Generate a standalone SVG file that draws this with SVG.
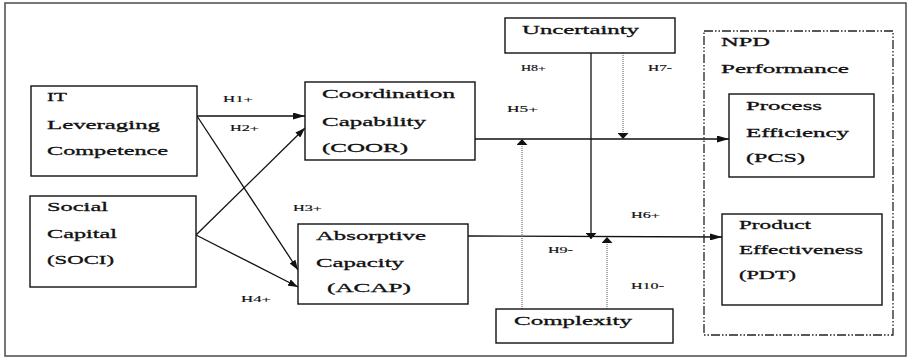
<svg xmlns="http://www.w3.org/2000/svg" width="908" height="358" viewBox="0 0 908 358">
<defs>
<style>
.bx{fill:#fff;stroke:#111;stroke-width:1.4}
.t{font-family:"Liberation Serif","Times New Roman",serif;font-size:13px;fill:#111;stroke:#111;stroke-width:0.3}
.l{font-family:"Liberation Serif","Times New Roman",serif;font-size:8.5px;fill:#111;stroke:#111;stroke-width:0.15}
.c{fill:none;stroke:#111;stroke-width:1.3}
.d{fill:none;stroke:#666;stroke-width:1.1;stroke-dasharray:1 1}
</style>
<marker id="ah" markerUnits="userSpaceOnUse" markerWidth="12" markerHeight="7" refX="12" refY="3.5" orient="auto"><path d="M0,0 L12,3.5 L0,7 z" fill="#111"/></marker>
<marker id="ad" markerUnits="userSpaceOnUse" markerWidth="10" markerHeight="7" refX="10" refY="3.5" orient="auto"><path d="M0,0 L10,3.5 L0,7 z" fill="#111"/></marker>
<marker id="av" markerUnits="userSpaceOnUse" markerWidth="6" markerHeight="11" refX="6" refY="5.5" orient="auto"><path d="M0,0 L6,5.5 L0,11 z" fill="#111"/></marker>
</defs>
<rect width="908" height="358" fill="#fff"/>
<rect x="5" y="3" width="901" height="353" fill="none" stroke="#555" stroke-width="1.6"/>

<g id="connectors">
<line class="c" x1="197" y1="116" x2="305" y2="116" marker-end="url(#ah)"/>
<line class="c" x1="197" y1="116" x2="298" y2="270" stroke-width="1.5" marker-end="url(#ad)"/>
<line class="c" x1="196" y1="235" x2="305" y2="128" stroke-width="1.5" marker-end="url(#ad)"/>
<line class="c" x1="196" y1="235" x2="298" y2="287" marker-end="url(#ad)"/>
<line class="c" x1="475" y1="139" x2="729" y2="139" marker-end="url(#ah)"/>
<line class="c" x1="468" y1="236" x2="722" y2="237" marker-end="url(#ah)"/>
<line class="c" x1="591" y1="53" x2="591" y2="239" stroke-width="1.8" marker-end="url(#av)"/>
<line class="d" x1="623" y1="53" x2="623" y2="139" marker-end="url(#av)"/>
<line class="d" x1="522" y1="309" x2="522" y2="139" marker-end="url(#av)"/>
<line class="d" x1="607" y1="309" x2="607" y2="237" marker-end="url(#av)"/>
<text class="l" x="223" y="102" textLength="30" lengthAdjust="spacingAndGlyphs">H1+</text>
<text class="l" x="230" y="131" textLength="29" lengthAdjust="spacingAndGlyphs">H2+</text>
<text class="l" x="293" y="211" textLength="29" lengthAdjust="spacingAndGlyphs">H3+</text>
<text class="l" x="241" y="302" textLength="30" lengthAdjust="spacingAndGlyphs">H4+</text>
<text class="l" x="507" y="112" textLength="31" lengthAdjust="spacingAndGlyphs">H5+</text>
<text class="l" x="631" y="218" textLength="29" lengthAdjust="spacingAndGlyphs">H6+</text>
<text class="l" x="648" y="71" textLength="24" lengthAdjust="spacingAndGlyphs">H7-</text>
<text class="l" x="521" y="71" textLength="25" lengthAdjust="spacingAndGlyphs">H8+</text>
<text class="l" x="548" y="253" textLength="25" lengthAdjust="spacingAndGlyphs">H9-</text>
<text class="l" x="631" y="289" textLength="33" lengthAdjust="spacingAndGlyphs">H10-</text>
</g>

<g id="npd">
<rect x="704" y="31" width="189" height="304" fill="none" stroke="#222" stroke-width="1.3" stroke-dasharray="9 2 1.5 2 1.5 2"/>
<text class="t" x="721" y="46" textLength="49" lengthAdjust="spacingAndGlyphs">NPD</text>
<text class="t" x="721" y="73" textLength="128" lengthAdjust="spacingAndGlyphs">Performance</text>
</g>

<g id="it">
<rect class="bx" x="31" y="86" width="166" height="90"/>
<text class="t" x="47" y="101" textLength="20" lengthAdjust="spacingAndGlyphs">IT</text>
<text class="t" x="47" y="129" textLength="113" lengthAdjust="spacingAndGlyphs">Leveraging</text>
<text class="t" x="47" y="155" textLength="121" lengthAdjust="spacingAndGlyphs">Competence</text>
</g>

<g id="soci">
<rect class="bx" x="30" y="196" width="166" height="91"/>
<text class="t" x="47" y="211" textLength="61" lengthAdjust="spacingAndGlyphs">Social</text>
<text class="t" x="47" y="238" textLength="70" lengthAdjust="spacingAndGlyphs">Capital</text>
<text class="t" x="47" y="264" textLength="67" lengthAdjust="spacingAndGlyphs">(SOCI)</text>
</g>

<g id="coor">
<rect class="bx" x="305" y="82" width="170" height="78"/>
<text class="t" x="322" y="98" textLength="133" lengthAdjust="spacingAndGlyphs">Coordination</text>
<text class="t" x="322" y="126" textLength="104" lengthAdjust="spacingAndGlyphs">Capability</text>
<text class="t" x="322" y="152" textLength="86" lengthAdjust="spacingAndGlyphs">(COOR)</text>
</g>

<g id="acap">
<rect class="bx" x="298" y="224" width="170" height="80"/>
<text class="t" x="316" y="239.5" textLength="110" lengthAdjust="spacingAndGlyphs">Absorptive</text>
<text class="t" x="316" y="266.5" textLength="88" lengthAdjust="spacingAndGlyphs">Capacity</text>
<text class="t" x="327" y="292" textLength="84" lengthAdjust="spacingAndGlyphs">(ACAP)</text>
</g>

<g id="uncertainty">
<rect class="bx" x="505" y="18" width="170" height="35"/>
<text class="t" x="522" y="34" textLength="117" lengthAdjust="spacingAndGlyphs">Uncertainty</text>
</g>

<g id="complexity">
<rect class="bx" x="496" y="309" width="177" height="34"/>
<text class="t" x="514" y="325" textLength="118" lengthAdjust="spacingAndGlyphs">Complexity</text>
</g>

<g id="pcs">
<rect class="bx" x="729" y="94" width="145" height="83"/>
<text class="t" x="746" y="110" textLength="76" lengthAdjust="spacingAndGlyphs">Process</text>
<text class="t" x="746" y="137" textLength="103" lengthAdjust="spacingAndGlyphs">Efficiency</text>
<text class="t" x="746" y="162" textLength="59" lengthAdjust="spacingAndGlyphs">(PCS)</text>
</g>

<g id="pdt">
<rect class="bx" x="722" y="214" width="160" height="91"/>
<text class="t" x="739" y="229" textLength="72" lengthAdjust="spacingAndGlyphs">Product</text>
<text class="t" x="739" y="254" textLength="124" lengthAdjust="spacingAndGlyphs">Effectiveness</text>
<text class="t" x="739" y="279" textLength="57" lengthAdjust="spacingAndGlyphs">(PDT)</text>
</g>
</svg>
